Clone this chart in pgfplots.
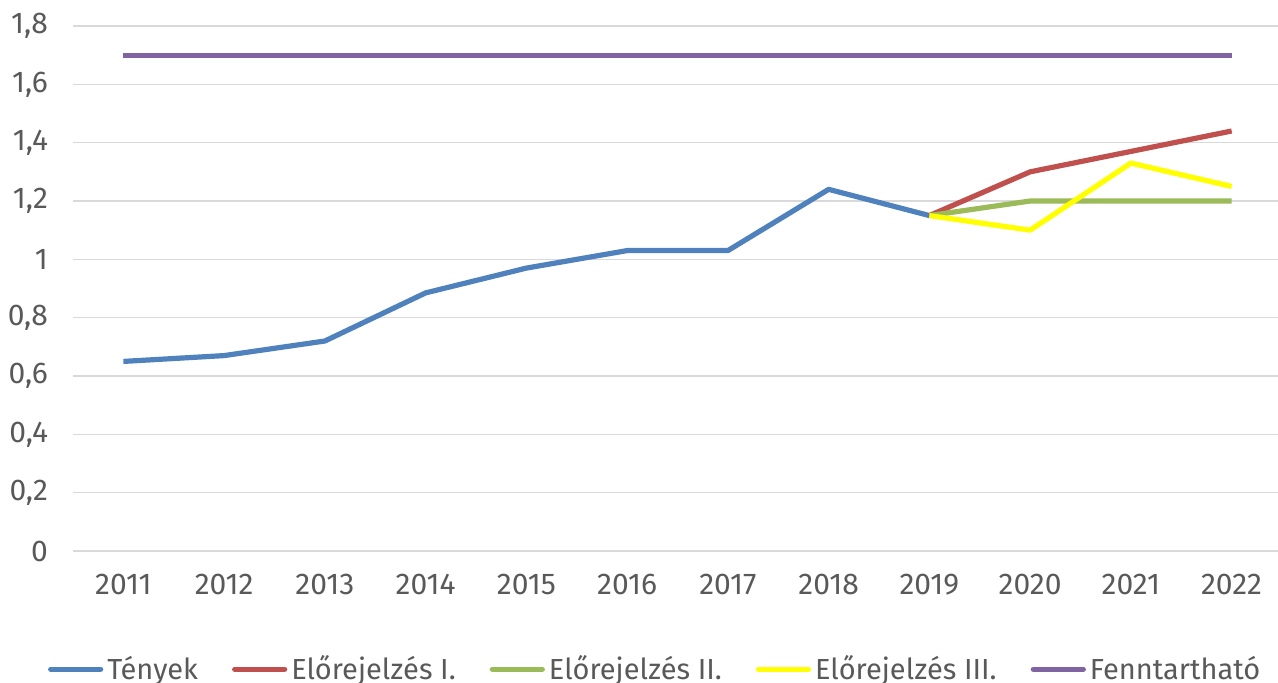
\documentclass[border=0pt]{standalone}
\usepackage{pgfplots}
\pgfplotsset{compat=1.18}
\usepackage{fontspec}
\setmainfont{Fira Sans}
\definecolor{cblue}{HTML}{4F81BD}
\definecolor{cred}{HTML}{C0504D}
\definecolor{cgreen}{HTML}{9BBB59}
\definecolor{cyellow}{HTML}{FFFF00}
\definecolor{cpurple}{HTML}{8064A2}
\definecolor{ctext}{HTML}{595959}
\definecolor{cgrid}{HTML}{D9D9D9}
\begin{document}
\begin{tikzpicture}
\path[use as bounding box, clip] (-36.5pt,-65.5pt) rectangle (602.5pt,275.5pt);
\begin{axis}[
  at={(0,0)}, anchor=south west,
  scale only axis, width=602.5pt, height=262.5pt,
  xmin=2010.5, xmax=2022.46, ymin=0, ymax=1.8,
  xtick={2011,...,2022}, ytick={0,0.2,...,1.8},
  axis line style={draw=none}, major tick length=0pt,
  ymajorgrids, grid style={cgrid, line width=0.6pt},
  /pgf/number format/assume math mode=true,
  xticklabel style={/pgf/number format/1000 sep={}, font=\fontsize{15}{17}\selectfont, text=ctext, yshift=-8pt},
  yticklabel style={font=\fontsize{15}{17}\selectfont, text=ctext, xshift=-9pt},
  yticklabel={\pgfmathprintnumber[fixed, precision=1, use comma]{\tick}},
  legend style={at={(0.484,-0.225)}, anchor=center, draw=none, fill=none,
    legend columns=-1, font=\fontsize{14.5}{16}\selectfont, text=ctext,
    /tikz/every even column/.append style={column sep=15pt},
    inner sep=0pt, outer sep=0pt},
  legend cell align=left,
  legend image code/.code={\draw[#1, line cap=round] (0pt,0pt) -- (25pt,0pt);},
  every axis plot/.append style={line width=2.6pt, line join=round},
]
\addplot[cblue] coordinates {(2011,0.65)(2012,0.67)(2013,0.72)(2014,0.885)(2015,0.97)(2016,1.03)(2017,1.03)(2018,1.24)(2019,1.15)};
\addlegendentry{Tények}
\addplot[cred] coordinates {(2019,1.15)(2020,1.30)(2021,1.37)(2022,1.44)};
\addlegendentry{Előrejelzés I.}
\addplot[cgreen] coordinates {(2019,1.15)(2020,1.20)(2021,1.20)(2022,1.20)};
\addlegendentry{Előrejelzés II.}
\addplot[cyellow] coordinates {(2019,1.15)(2020,1.10)(2021,1.33)(2022,1.25)};
\addlegendentry{Előrejelzés III.}
\addplot[cpurple] coordinates {(2011,1.70)(2012,1.70)(2013,1.70)(2014,1.70)(2015,1.70)(2016,1.70)(2017,1.70)(2018,1.70)(2019,1.70)(2020,1.70)(2021,1.70)(2022,1.70)};
\addlegendentry{Fenntartható}
\end{axis}
\end{tikzpicture}
\end{document}
